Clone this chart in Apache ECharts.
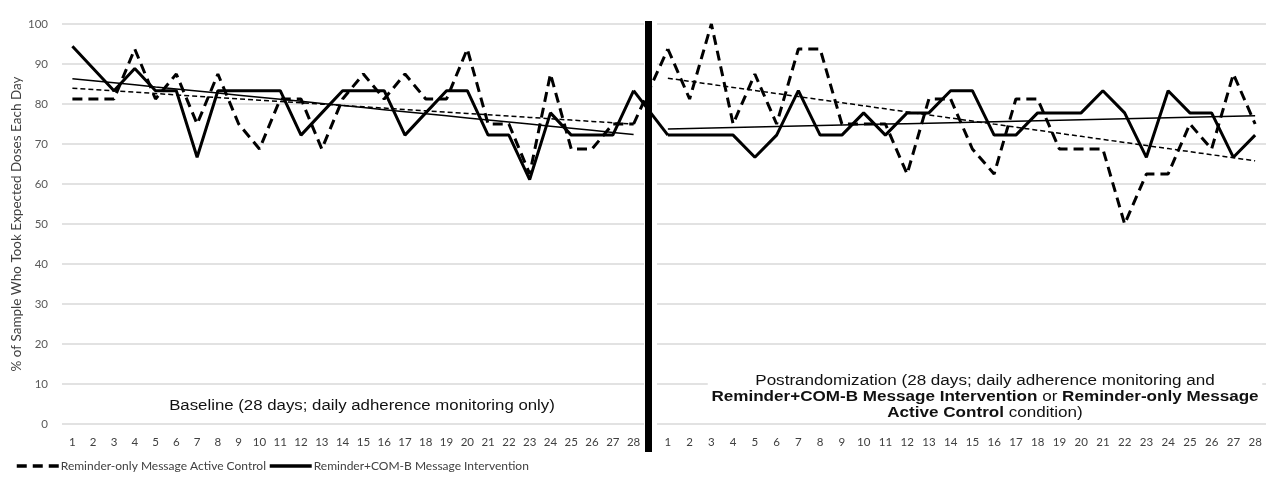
<!DOCTYPE html>
<html>
<head>
<meta charset="utf-8">
<script src="https://cdn.jsdelivr.net/npm/echarts@6/dist/echarts.min.js"></script>
<style>
  html, body { margin: 0; padding: 0; background: #fff; }
  #main { width: 1266px; height: 484px; }
</style>
</head>
<body>
<div id="main"></div>
<script>
// day labels for each 28-day phase
const days = ["1","2","3","4","5","6","7","8","9","10","11","12","13","14",
  "15","16","17","18","19","20","21","22","23","24","25","26","27","28"];

// % of sample taking expected doses
const baseControl = [81.25, 81.25, 81.25, 93.75, 81.25, 87.5, 75, 87.5, 75, 68.75,
  81.25, 81.25, 68.75, 81.25, 87.5, 81.25, 87.5, 81.25, 81.25, 93.75,
  75, 75, 62.5, 87.5, 68.75, 68.75, 75, 75];
const baseInterv = [94.44, 88.89, 83.33, 88.89, 83.33, 83.33, 66.67, 83.33, 83.33, 83.33,
  83.33, 72.22, 77.78, 83.33, 83.33, 83.33, 72.22, 77.78, 83.33, 83.33,
  72.22, 72.22, 61.11, 77.78, 72.22, 72.22, 72.22, 83.33];
const postControl = [93.75, 81.25, 100, 75, 87.5, 75, 93.75, 93.75, 75, 75,
  75, 62.5, 81.25, 81.25, 68.75, 62.5, 81.25, 81.25, 68.75, 68.75,
  68.75, 50, 62.5, 62.5, 75, 68.75, 87.5, 75];
const postInterv = [72.22, 72.22, 72.22, 72.22, 66.67, 72.22, 83.33, 72.22, 72.22, 77.78,
  72.22, 77.78, 77.78, 83.33, 83.33, 72.22, 72.22, 77.78, 77.78, 77.78,
  83.33, 77.78, 66.67, 83.33, 77.78, 77.78, 66.67, 72.22];

const controlName = "Reminder-only Message Active Control";
const intervName = "Reminder+COM-B Message Intervention";

// linear trend (least squares) like excel's trendline
function trend(vals) {
  let n = vals.length, sx = 0, sy = 0, sxy = 0, sxx = 0;
  vals.forEach((v, i) => { sx += i; sy += v; sxy += i * v; sxx += i * i; });
  let b = (n * sxy - sx * sy) / (n * sxx - sx * sx);
  let a = (sy - b * sx) / n;
  return vals.map((v, i) => +(a + b * i).toFixed(2));
}

const dashData = [10, 6];
const dashTrend = [5, 3];

function dataLine(name, vals, xi, dashed) {
  return {
    name: name, type: "line", xAxisIndex: xi, yAxisIndex: xi,
    data: vals, symbol: "none", z: 5,
    lineStyle: { color: "#000", width: 3, type: dashed ? dashData : "solid" },
    itemStyle: { color: "#000" },
  };
}
function trendLine(vals, xi, dashed) {
  return {
    name: "trend", type: "line", xAxisIndex: xi, yAxisIndex: xi,
    data: trend(vals), symbol: "none", z: 4, silent: true,
    lineStyle: { color: "#000", width: 1.5, type: dashed ? dashTrend : "solid" },
  };
}

var myChart = echarts.init(document.getElementById("main"));
var yAxisBase = {
  type: "value", min: 0, max: 100, interval: 10,
  axisLine: { show: false }, axisTick: { show: false },
  splitLine: { lineStyle: { color: "#d9d9d9", width: 1.5 } },
};
var xAxisBase = {
  type: "category", data: days, boundaryGap: true,
  axisLine: { show: false }, axisTick: { show: false },
  axisLabel: { color: "#404040", fontFamily: "Lato", fontSize: 11.5, margin: 12, interval: 0 },
};

var option = {
  backgroundColor: "#fff",
  animation: false,
  grid: [
    { left: 62, top: 24, width: 582, height: 400 },
    { left: 657, top: 24, width: 609, height: 400 },
  ],
  xAxis: [
    Object.assign({ gridIndex: 0 }, xAxisBase),
    Object.assign({ gridIndex: 1 }, xAxisBase),
  ],
  yAxis: [
    Object.assign({ gridIndex: 0 }, yAxisBase, {
      name: "% of Sample Who Took Expected Doses Each Day",
      nameLocation: "middle", nameGap: 37, nameRotate: 90,
      nameTextStyle: { color: "#404040", fontFamily: "Lato", fontSize: 13.5 },
      axisLabel: { color: "#595959", fontFamily: "Lato", fontSize: 11.5, margin: 14 },
    }),
    Object.assign({ gridIndex: 1 }, yAxisBase, { axisLabel: { show: false } }),
  ],
  legend: {
    left: 10, top: 455, itemWidth: 42, itemHeight: 6, itemGap: 2,
    data: [controlName, intervName],
    itemStyle: { opacity: 0 },
    lineStyle: { width: 3.5 },
    textStyle: { color: "#404040", fontFamily: "Lato", fontSize: 12, padding: [0, 0, 0, -3] },
  },
  series: [
    dataLine(controlName, baseControl, 0, true),
    dataLine(intervName, baseInterv, 0, false),
    trendLine(baseControl, 0, true),
    trendLine(baseInterv, 0, false),
    dataLine(controlName, postControl, 1, true),
    dataLine(intervName, postInterv, 1, false),
    trendLine(postControl, 1, true),
    trendLine(postInterv, 1, false),
  ],
};
myChart.setOption(option);

// lines keep going across the phase change, join day 28 to day 1
function bridge(a, b, dashed) {
  let p0 = myChart.convertToPixel({ xAxisIndex: 0, yAxisIndex: 0 }, [days.length - 1, a[a.length - 1]]);
  let p1 = myChart.convertToPixel({ xAxisIndex: 1, yAxisIndex: 1 }, [0, b[0]]);
  return {
    type: "polyline", z: 5,
    shape: { points: [p0, p1] },
    style: { stroke: "#000", lineWidth: 3, fill: null, lineDash: dashed ? dashData : null },
  };
}

// figure text looks stretched sideways, so widen it
const textFont = "14px 'Liberation Sans'";
const boldFont = "bold 14px 'Liberation Sans'";

myChart.setOption({
  graphic: [
    bridge(baseControl, postControl, true),
    bridge(baseInterv, postInterv, false),
    // phase divider
    { type: "rect", z: 10, shape: { x: 645, y: 21, width: 7, height: 431 }, style: { fill: "#000" } },
    {
      type: "text", z: 10, x: 362, y: 406, scaleX: 1.2,
      style: {
        text: "Baseline (28 days; daily adherence monitoring only)",
        font: textFont, fill: "#111", align: "center", verticalAlign: "middle",
      },
    },
    {
      type: "text", z: 10, x: 985, y: 372, scaleX: 1.22,
      style: {
        text: "{n|Postrandomization (28 days; daily adherence monitoring and}\n" +
          "{b|Reminder+COM-B Message Intervention}{n| or }{b|Reminder-only Message}\n" +
          "{b|Active Control}{n| condition)}",
        align: "center", verticalAlign: "top",
        backgroundColor: "#fff", padding: [1, 3, 1, 3],
        rich: {
          n: { font: textFont, fill: "#111", lineHeight: 16 },
          b: { font: boldFont, fill: "#111", lineHeight: 16 },
        },
      },
    },
  ],
});
</script>
</body>
</html>
